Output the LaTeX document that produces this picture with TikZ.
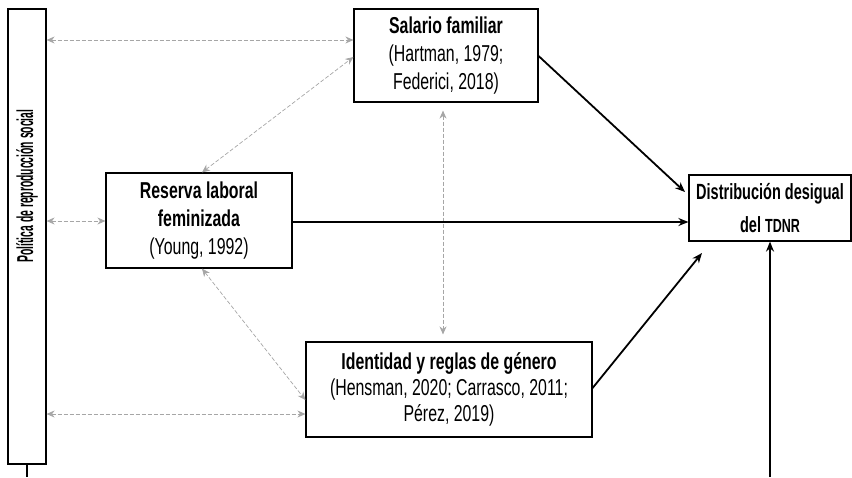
\documentclass[tikz,border=0pt]{standalone}
\usepackage{fontspec}
\setmainfont[FakeStretch=0.69]{Liberation Sans}
\newfontfamily\narrowfont[FakeStretch=0.45]{Liberation Sans Bold}
\newfontfamily\tdnrfont[FakeStretch=0.66]{Liberation Sans}
\usetikzlibrary{arrows.meta}

\begin{document}
\begin{tikzpicture}[
		x=1pt, y=-1pt,
		every node/.style={align=center, inner sep=0pt, font=\fontsize{23}{28}\selectfont},
		box/.style={draw, line width=1.2pt, fill=white},
		mainarr/.style={-{Stealth[length=10pt, width=8pt]}, line width=1.8pt},
		linkarr/.style={{Stealth[length=8pt, width=7pt]}-{Stealth[length=8pt, width=7pt]}, gray!70, dash pattern=on 4pt off 2pt, line width=0.7pt}
		]
		\useasboundingbox (0,0) rectangle (852,477);
		\node[box, minimum width=38, minimum height=455] (pol) at (27,236.5) {};
		\node[rotate=90, font=\narrowfont\fontsize{23}{24}\selectfont] (poltxt) at (27,186) {Política de reproducción social};
		\node[box, minimum width=184, minimum height=93] (sal) at (446,55.5) {\textbf{Salario familiar}\\(Hartman, 1979;\\Federici, 2018)};
		\node[box, minimum width=186, minimum height=95] (res) at (199,220.5) {\textbf{Reserva laboral}\\\textbf{feminizada}\\(Young, 1992)};
		\node[box, minimum width=286, minimum height=95, font=\fontsize{23}{26}\selectfont] (ide) at (449,389.5) {\textbf{Identidad y reglas de género}\\(Hensman, 2020; Carrasco, 2011;\\Pérez, 2019)};
		\node[box, minimum width=162, minimum height=66, font=\tdnrfont\fontsize{22}{33}\selectfont\bfseries] (tdnr) at (770,208) {Distribución desigual\\del {\fontsize{19}{33}\selectfont TDNR}};
		\coordinate (polend) at (27,477);
		\coordinate (tdnrin) at (770,477);
		\coordinate (tdnrlow) at (702,253);
		
		% links with the social reproduction policy
		\draw[linkarr] (pol.east |- 0,40) -- (sal.west |- 0,40);
		\draw[linkarr] (pol.east |- 0,221) -- (res.west |- 0,221);
		\draw[linkarr] (pol.east |- 0,414) -- (ide.west |- 0,414);
		\draw[linkarr] (res.north -| 202,0) -- (sal.west |- 0,57);
		\draw[linkarr] (res.south -| 202,0) -- (ide.west |- 0,400);
		\draw[linkarr] ([yshift=-8pt]sal.south -| 443,0) -- ([yshift=7pt]ide.north -| 443,0);
		
		\draw[line width=1.5pt] (pol) -- (polend);
		\draw[mainarr] (sal.east |- 0,56) -- (685,192);
		\draw[mainarr] (res.east |- 0,222) -- (tdnr.west |- 0,222);
		\draw[mainarr] (ide.east |- 0,388) -- (tdnrlow);
		\draw[mainarr] (tdnrin) -- (tdnr.south);
	\end{tikzpicture}
\end{document}
